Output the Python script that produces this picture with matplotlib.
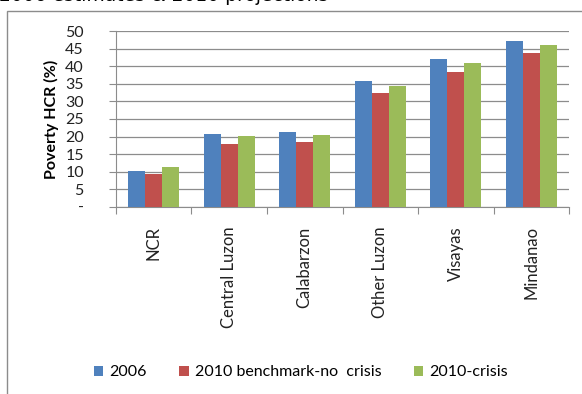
import numpy as np
import matplotlib.pyplot as plt
from matplotlib.patches import Rectangle

regions = ["NCR", "Central Luzon", "Calabarzon", "Other Luzon", "Visayas", "Mindanao"]
hcr_2006 = [10.3, 20.7, 21.2, 35.8, 42.2, 47.1]
hcr_2010_nocrisis = [9.3, 17.8, 18.4, 32.3, 38.4, 43.8]
hcr_2010_crisis = [11.4, 20.2, 20.5, 34.4, 41.0, 46.0]
series = [("2006", hcr_2006, "#4F81BD"),
          ("2010 benchmark-no  crisis", hcr_2010_nocrisis, "#C0504D"),
          ("2010-crisis", hcr_2010_crisis, "#9BBB59")]
yticks = [0, 5, 10, 15, 20, 25, 30, 35, 40, 45, 50]
ytick_labels = ["-"] + [str(v) for v in yticks[1:]]

plt.rcParams['font.family'] = ['Lato', 'DejaVu Sans']

fig = plt.figure(figsize=(5.82, 3.94), dpi=100)
ax = fig.add_axes([0.199, 0.475, 0.779, 0.446])

x = np.arange(len(regions))
w = 0.224
for i, (name, vals, col) in enumerate(series):
    ax.bar(x + (i - 1) * w, vals, w, color=col, label=name, zorder=3)

ax.set_xlim(-0.5, len(regions) - 0.5)
ax.set_ylim(0, 50)
ax.set_yticks(yticks)
ax.set_yticklabels(ytick_labels, fontsize=11.5, color="#222222")
ax.yaxis.grid(True, color="#8c8c8c", linewidth=0.9, zorder=0)

# category labels between the boundary ticks
ax.set_xticks(np.arange(-0.5, len(regions)))
ax.set_xticklabels([])
ax.set_xticks(x, minor=True)
ax.set_xticklabels(regions, minor=True, rotation=90, fontsize=12, color="#222222")
ax.tick_params(axis="x", which="major", length=5, color="#8c8c8c", direction="out")
ax.tick_params(axis="x", which="minor", length=0, pad=14)
ax.tick_params(axis="y", length=5, color="#8c8c8c", direction="out", pad=18)

for s in ["top", "right"]:
    ax.spines[s].set_visible(False)
ax.spines["left"].set_color("#8c8c8c")
ax.spines["bottom"].set_color("#8c8c8c")

ax.set_ylabel("Poverty HCR (%)", fontsize=11.5, fontweight="bold")
ax.yaxis.set_label_coords(-0.125, 0.5)

leg = fig.legend(loc="center", bbox_to_anchor=(0.517, 0.055), ncol=3, frameon=False,
                 fontsize=11.5, handlelength=0.6, handleheight=0.6, handletextpad=0.4,
                 columnspacing=2.0)

# outer chart border (runs off the right and bottom edges)
fig.patches.append(Rectangle((0.012, -0.1), 1.2, 1.072, transform=fig.transFigure,
                             fill=False, edgecolor="#8c8c8c", linewidth=1))

# title, cut off by the top edge as in the source
fig.text(-0.002, 0.997, "2006 estimates & 2010 projections", fontsize=13.5,
         family="DejaVu Sans", va="baseline", ha="left")

fig.savefig("out.png", dpi=100)
